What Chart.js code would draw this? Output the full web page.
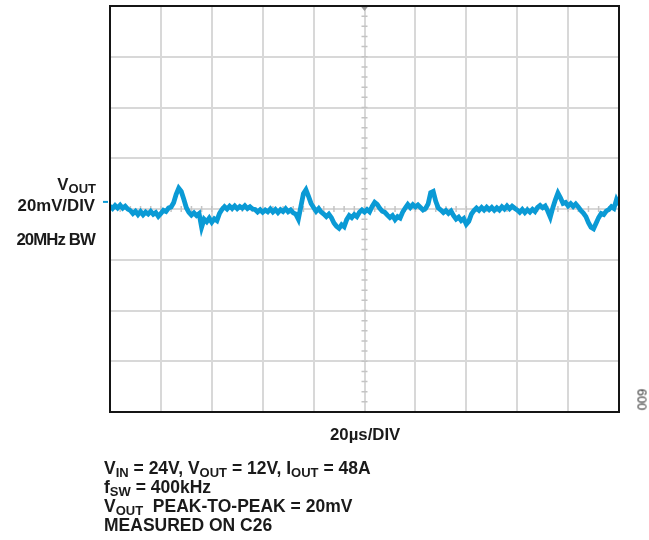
<!DOCTYPE html>
<html><head><meta charset="utf-8">
<script src="https://cdn.jsdelivr.net/npm/chart.js@4"></script>
<style>
html,body{margin:0;padding:0;background:#fff;}
#wrap{position:relative;width:649px;height:540px;overflow:hidden;background:#fff;}
canvas{position:absolute;left:0;top:0;}
.t{position:absolute;font-family:"Liberation Sans",Arial,sans-serif;font-weight:bold;font-size:16.8px;color:#1a1a1a;white-space:nowrap;line-height:16px;}
.b{font-size:17.5px;}
.r{text-align:right;}
.s{font-size:13px;position:relative;top:3px;}
#fig{position:absolute;font-family:"Liberation Sans",Arial,sans-serif;font-size:13px;color:#333;left:628px;top:393px;width:28px;text-align:center;transform:rotate(-90deg);line-height:13px;}
</style></head><body>
<div id="wrap">
<canvas id="c" width="649" height="540"></canvas>
<div class="t r" style="right:553px;top:177px;">V<span class="s">OUT</span></div>
<div class="t r" style="right:554px;top:197.5px;">20mV/DIV</div>
<div class="t r" style="right:554px;top:231.5px;letter-spacing:-0.9px;">20MHz BW</div>
<div class="t" style="left:330px;top:426.5px;">20µs/DIV</div>
<div class="t b" style="left:104px;top:459.5px;">V<span class="s">IN</span> = 24V, V<span class="s">OUT</span> = 12V, I<span class="s">OUT</span> = 48A</div>
<div class="t b" style="left:104px;top:478.5px;">f<span class="s">SW</span> = 400kHz</div>
<div class="t b" style="left:104px;top:497.5px;">V<span class="s">OUT</span>&nbsp; PEAK-TO-PEAK = 20mV</div>
<div class="t b" style="left:104px;top:517px;">MEASURED ON C26</div>
<div id="fig">009</div>
</div>
<script>
// Time base: 20 µs/div, 10 divisions; vertical: 20 mV/div, 8 divisions
const sampleStepUs = 1;
const xTicks = [0, 20, 40, 60, 80, 100, 120, 140, 160, 180, 200];
const yTicks = [-80, -60, -40, -20, 0, 20, 40, 60, 80];
const groundMarkerMv = 2.8;
// V_OUT ripple, mV, one sample per µs (0..200 µs)
const voutMv = [
  1.2, 0.2, 1.4, 0.4, 1.5, 0.3, 1.1, 0.0, -0.6, -1.8,
  -0.9, -2.2, -1.0, -2.3, -1.2, -2.0, -0.9, -2.1, -1.4, -2.9,
  -1.8, -0.5, -1.0, 0.4, 0.8, 2.5, 5.8, 8.2, 6.9, 3.8,
  0.5, -1.3, -2.4, -1.5, -2.6, -1.8, -7.2, -4.0, -5.0, -3.6,
  -5.2, -3.9, -4.6, -1.8, -0.2, 0.9, 0.0, 1.1, 0.2, 1.2,
  0.1, 1.0, 0.3, 1.3, 0.2, 0.9, 0.0, -0.2, -1.2, -0.3,
  -1.3, -0.4, -1.1, 0.0, -1.2, -0.2, -1.4, -0.3, -1.0, 0.1,
  -1.1, -0.4, -1.5, -2.0, -4.0, 1.0, 6.0, 7.6, 5.0, 2.2,
  0.6, -0.9, 0.2, -1.2, -2.0, -3.0, -2.0, -3.4, -5.5, -6.8,
  -7.6, -6.2, -7.0, -4.2, -2.6, -3.4, -2.2, -3.0, -1.3, -0.4,
  -1.2, -0.2, -1.1, 1.0, 2.6, 1.8, 0.3, -0.9, -1.3, -2.4,
  -3.4, -2.6, -4.2, -3.0, -3.6, -1.2, 0.4, 1.8, 0.6, 1.7,
  0.8, 1.6, 0.6, -0.4, 0.2, 2.0, 6.4, 6.9, 3.0, 0.4,
  -0.4, -1.4, -0.6, -1.7, -0.8, -2.6, -4.0, -3.2, -4.6, -3.8,
  -6.0, -4.8, -2.0, -0.6, 0.4, -0.5, 0.6, -0.4, 0.7, -0.3,
  0.6, -0.5, 0.5, -0.4, 0.9, 0.0, 1.2, 0.1, 1.1, 0.3,
  -0.4, -1.3, -0.2, -1.4, -0.3, -1.2, -0.1, -1.0, 0.6, 1.4,
  0.5, 1.2, -0.8, -3.2, 0.5, 3.6, 6.3, 4.4, 2.2, 2.6,
  1.2, 2.1, 1.0, 2.0, 0.8, -0.6, -1.6, -3.0, -5.4, -7.2,
  -7.8, -5.6, -3.4, -1.8, -2.2, -0.8, -0.2, 0.9, 0.2, 3.6,
  1.6
];
const traceColor = '#0a9ad5';
const points = voutMv.map((v, i) => ({ x: i * sampleStepUs, y: v }));

const scopeDecor = {
  id: 'scopeDecor',
  beforeDatasetsDraw(chart) {
    const { ctx, chartArea: a, scales: { x, y } } = chart;
    const cx = x.getPixelForValue(100), cy = y.getPixelForValue(0);
    ctx.save();
    ctx.strokeStyle = '#c4c4c4';
    ctx.lineWidth = 1.5;
    ctx.beginPath();
    for (let v = 0; v <= 200; v += 4) {
      const px = x.getPixelForValue(v);
      ctx.moveTo(px, cy - 3); ctx.lineTo(px, cy + 3);
    }
    for (let v = -80; v <= 80; v += 4) {
      const py = y.getPixelForValue(v);
      ctx.moveTo(cx - 3, py); ctx.lineTo(cx + 3, py);
    }
    ctx.stroke();
    ctx.fillStyle = '#9a9a9a';
    ctx.beginPath();
    ctx.moveTo(cx - 4, a.top); ctx.lineTo(cx + 4, a.top); ctx.lineTo(cx, a.top + 5);
    ctx.closePath(); ctx.fill();
    ctx.restore();
  },
  afterDraw(chart) {
    const { ctx, chartArea: a, scales: { y } } = chart;
    ctx.save();
    ctx.strokeStyle = '#151515';
    ctx.lineWidth = 2;
    ctx.strokeRect(a.left, a.top, a.right - a.left, a.bottom - a.top);
    const gy = y.getPixelForValue(groundMarkerMv);
    ctx.strokeStyle = traceColor;
    ctx.beginPath(); ctx.moveTo(a.left - 7, gy); ctx.lineTo(a.left - 2, gy); ctx.stroke();
    ctx.restore();
  }
};

new Chart(document.getElementById('c'), {
  type: 'line',
  data: { datasets: [{ data: points, borderColor: traceColor, borderWidth: 4.8, pointRadius: 0, tension: 0, fill: false, borderJoinStyle: 'miter' }] },
  options: {
    responsive: false, animation: false,
    layout: { padding: { left: 110, right: 30, top: 6, bottom: 128 } },
    plugins: { legend: { display: false }, tooltip: { enabled: false } },
    scales: {
      x: { type: 'linear', min: 0, max: 200,
        afterBuildTicks: s => { s.ticks = xTicks.map(v => ({ value: v })); },
        ticks: { display: false }, grid: { color: '#d8d8d8', lineWidth: 2, drawTicks: false }, border: { display: false } },
      y: { type: 'linear', min: -80, max: 80,
        afterBuildTicks: s => { s.ticks = yTicks.map(v => ({ value: v })); },
        ticks: { display: false }, grid: { color: '#d8d8d8', lineWidth: 2, drawTicks: false }, border: { display: false } }
    }
  },
  plugins: [scopeDecor]
});
</script>
</body></html>
